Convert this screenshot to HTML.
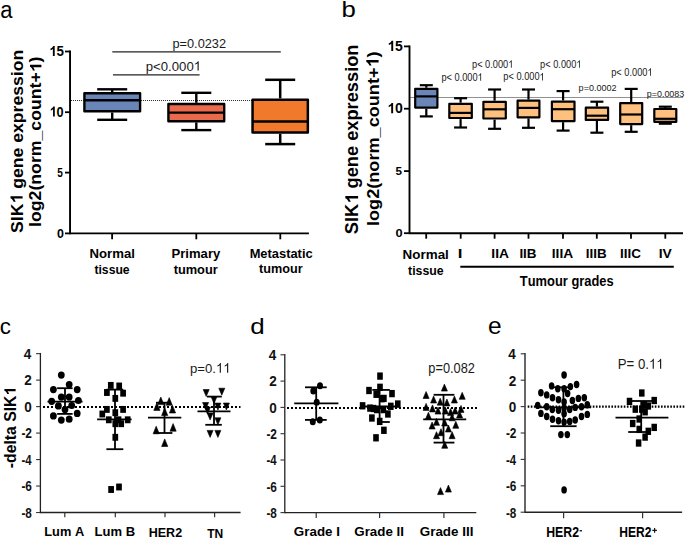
<!DOCTYPE html>
<html><head><meta charset="utf-8"><style>
html,body{margin:0;padding:0;background:#fff;}
svg{display:block;font-family:"Liberation Sans", sans-serif;}
</style></head><body>
<svg width="685" height="539" viewBox="0 0 685 539">
<rect width="685" height="539" fill="#fff"/>
<g transform="translate(0.36,17.86) scale(0.9215,1)" fill="#000"><text x="0.00" y="0" font-size="23.93">a</text></g>
<line x1="70.05" y1="50.6" x2="70.05" y2="234.3" stroke="#000" stroke-width="1.9" />
<line x1="65.0" y1="51.5" x2="70.05" y2="51.5" stroke="#000" stroke-width="1.8" />
<line x1="65.0" y1="112.2" x2="70.05" y2="112.2" stroke="#000" stroke-width="1.8" />
<line x1="65.0" y1="172.6" x2="70.05" y2="172.6" stroke="#000" stroke-width="1.8" />
<line x1="65.0" y1="233.4" x2="70.05" y2="233.4" stroke="#000" stroke-width="1.8" />
<g transform="translate(49.12,56.06) scale(0.9643,1)" fill="#000"><text x="7.71" y="0" font-size="13.86" font-weight="bold">5</text><path transform="translate(0.00,0) scale(0.00677,-0.00677)" d="M856 0L575 0L575 1059Q421 915 212 846L212 1101Q322 1137 451 1237Q580 1337 628 1472L856 1472Z"/></g>
<g transform="translate(49.48,116.56) scale(0.9082,1)" fill="#000"><text x="7.78" y="0" font-size="14.00" font-weight="bold">0</text><path transform="translate(0.00,0) scale(0.00683,-0.00683)" d="M856 0L575 0L575 1059Q421 915 212 846L212 1101Q322 1137 451 1237Q580 1337 628 1472L856 1472Z"/></g>
<g transform="translate(57.20,176.58) scale(0.8446,1)" fill="#000"><text x="0.00" y="0" font-size="11.90" font-weight="bold">5</text></g>
<g transform="translate(57.00,237.58) scale(1.0462,1)" fill="#000"><text x="0.00" y="0" font-size="11.87" font-weight="bold">0</text></g>
<line x1="70.05" y1="233.4" x2="308.9" y2="233.4" stroke="#000" stroke-width="1.9" />
<line x1="112.1" y1="233.4" x2="112.1" y2="239.3" stroke="#000" stroke-width="1.8" />
<line x1="196.3" y1="233.4" x2="196.3" y2="239.3" stroke="#000" stroke-width="1.8" />
<line x1="280.3" y1="233.4" x2="280.3" y2="239.3" stroke="#000" stroke-width="1.8" />
<line x1="71.05" y1="100.5" x2="309.0" y2="100.5" stroke="#2a2a2a" stroke-width="1" stroke-dasharray="1,1"/>
<line x1="112.2" y1="89.3" x2="112.2" y2="92.0" stroke="#000" stroke-width="2.4" />
<line x1="112.2" y1="112.5" x2="112.2" y2="119.8" stroke="#000" stroke-width="2.4" />
<line x1="97.2" y1="89.3" x2="127.2" y2="89.3" stroke="#000" stroke-width="2.4" />
<line x1="97.2" y1="119.8" x2="127.2" y2="119.8" stroke="#000" stroke-width="2.4" />
<rect x="84.4" y="93.2" width="55.7" height="18.1" fill="#6A86B9" stroke="#000" stroke-width="2.4" stroke-linejoin="round"/>
<line x1="84.4" y1="100.2" x2="140.1" y2="100.2" stroke="#000" stroke-width="2.4" />
<line x1="196.3" y1="92.8" x2="196.3" y2="102.8" stroke="#000" stroke-width="2.4" />
<line x1="196.3" y1="122.4" x2="196.3" y2="130.1" stroke="#000" stroke-width="2.4" />
<line x1="181.3" y1="92.8" x2="211.3" y2="92.8" stroke="#000" stroke-width="2.4" />
<line x1="181.3" y1="130.1" x2="211.3" y2="130.1" stroke="#000" stroke-width="2.4" />
<rect x="168.4" y="104.0" width="55.8" height="17.2" fill="#EC6A4C" stroke="#000" stroke-width="2.4" stroke-linejoin="round"/>
<line x1="168.4" y1="112.6" x2="224.2" y2="112.6" stroke="#000" stroke-width="2.4" />
<line x1="280.2" y1="79.8" x2="280.2" y2="98.4" stroke="#000" stroke-width="2.5" />
<line x1="280.2" y1="133.8" x2="280.2" y2="144.1" stroke="#000" stroke-width="2.5" />
<line x1="265.2" y1="79.8" x2="295.2" y2="79.8" stroke="#000" stroke-width="2.5" />
<line x1="265.2" y1="144.1" x2="295.2" y2="144.1" stroke="#000" stroke-width="2.5" />
<rect x="252.55" y="99.65" width="55.3" height="32.9" fill="#F0792B" stroke="#000" stroke-width="2.5" stroke-linejoin="round"/>
<line x1="252.55" y1="121.5" x2="307.85" y2="121.5" stroke="#000" stroke-width="2.5" />
<line x1="112.3" y1="51.9" x2="280.8" y2="51.9" stroke="#222" stroke-width="1.4" />
<line x1="113.0" y1="74.9" x2="199.6" y2="74.9" stroke="#222" stroke-width="1.4" />
<g transform="translate(172.47,47.70) scale(1.0115,1)" fill="#1a1a1a"><text x="0.00 7.02 14.38 21.40 24.91 31.92 38.94 45.96" y="0" font-size="12.62">p=0.0232</text></g>
<g transform="translate(145.74,70.50) scale(1.0304,1)" fill="#1a1a1a"><text x="0.00 7.12 14.59 21.71 25.27 32.39 39.51" y="0" font-size="12.80">p&lt;0.000</text><path transform="translate(46.63,0) scale(0.00625,-0.00625)" d="M763 0L583 0L583 1147Q518 1085 412.5 1023Q307 961 223 930L223 1104Q374 1175 487 1276Q600 1377 647 1472L763 1472Z"/></g>
<g transform="translate(22.60,232.40) rotate(-90) translate(-0.53,0) scale(1.0475,1)" fill="#000"><text x="0.00 11.22 15.90 42.09 52.37 61.73 72.00 86.04 95.40 104.76 115.04 121.59 130.94 140.30 149.66 154.34 164.62" y="0" font-size="16.83" font-weight="bold">SIKgeneexpression</text><path transform="translate(28.05,0) scale(0.00822,-0.00822)" d="M856 0L575 0L575 1059Q421 915 212 846L212 1101Q322 1137 451 1237Q580 1337 628 1472L856 1472Z"/></g>
<g transform="translate(41.40,225.70) rotate(-90) translate(-1.24,0) scale(1.1146,1)" fill="#000"><text x="0.00 4.41 14.10 23.79 32.61 37.89 47.58 57.27 63.44 77.55 86.37 95.19 104.88 114.57 124.26 129.54 147.63" y="0" font-size="15.86" font-weight="bold">log2(norm_count+)</text><path transform="translate(138.80,0) scale(0.00775,-0.00775)" d="M856 0L575 0L575 1059Q421 915 212 846L212 1101Q322 1137 451 1237Q580 1337 628 1472L856 1472Z"/></g>
<g transform="translate(89.51,258.20) scale(0.9653,1)" fill="#000"><text x="0.00 9.86 18.20 23.52 35.66 43.25" y="0" font-size="13.66" font-weight="bold">Normal</text></g>
<g transform="translate(94.45,273.70) scale(0.8909,1)" fill="#000"><text x="0.00 4.55 8.34 15.94 23.53 31.87" y="0" font-size="13.66" font-weight="bold">tissue</text></g>
<g transform="translate(171.52,258.00) scale(0.9785,1)" fill="#000"><text x="0.00 8.92 14.13 17.85 29.74 37.19 42.39" y="0" font-size="13.38" font-weight="bold">Primary</text></g>
<g transform="translate(173.64,273.50) scale(0.9580,1)" fill="#000"><text x="0.00 4.46 12.63 24.52 32.70 40.87" y="0" font-size="13.38" font-weight="bold">tumour</text></g>
<g transform="translate(249.63,257.90) scale(0.9837,1)" fill="#000"><text x="0.00 10.92 18.20 22.57 29.85 37.14 41.51 48.79 53.16 56.80" y="0" font-size="13.10" font-weight="bold">Metastatic</text></g>
<g transform="translate(259.04,273.40) scale(0.9670,1)" fill="#000"><text x="0.00 4.36 12.37 24.02 32.02 40.03" y="0" font-size="13.10" font-weight="bold">tumour</text></g>
<g transform="translate(341.42,16.97) scale(1.1414,1)" fill="#000"><text x="0.00" y="0" font-size="22.59">b</text></g>
<line x1="409.5" y1="45.5" x2="409.5" y2="234.1" stroke="#000" stroke-width="1.9" />
<line x1="404.0" y1="46.4" x2="409.5" y2="46.4" stroke="#000" stroke-width="1.8" />
<line x1="404.0" y1="108.7" x2="409.5" y2="108.7" stroke="#000" stroke-width="1.8" />
<line x1="404.0" y1="171.1" x2="409.5" y2="171.1" stroke="#000" stroke-width="1.8" />
<line x1="404.0" y1="233.2" x2="409.5" y2="233.2" stroke="#000" stroke-width="1.8" />
<g transform="translate(387.35,50.96) scale(0.9889,1)" fill="#000"><text x="7.86" y="0" font-size="14.13" font-weight="bold">5</text><path transform="translate(0.00,0) scale(0.00690,-0.00690)" d="M856 0L575 0L575 1059Q421 915 212 846L212 1101Q322 1137 451 1237Q580 1337 628 1472L856 1472Z"/></g>
<g transform="translate(387.25,113.16) scale(0.9944,1)" fill="#000"><text x="7.86" y="0" font-size="14.13" font-weight="bold">0</text><path transform="translate(0.00,0) scale(0.00690,-0.00690)" d="M856 0L575 0L575 1059Q421 915 212 846L212 1101Q322 1137 451 1237Q580 1337 628 1472L856 1472Z"/></g>
<g transform="translate(395.55,175.28) scale(0.9917,1)" fill="#000"><text x="0.00" y="0" font-size="11.76" font-weight="bold">5</text></g>
<g transform="translate(395.39,237.38) scale(1.0947,1)" fill="#000"><text x="0.00" y="0" font-size="11.73" font-weight="bold">0</text></g>
<line x1="409.5" y1="233.2" x2="683.0" y2="233.2" stroke="#000" stroke-width="1.9" />
<line x1="426.2" y1="233.2" x2="426.2" y2="238.7" stroke="#000" stroke-width="1.8" />
<line x1="460.7" y1="233.2" x2="460.7" y2="238.7" stroke="#000" stroke-width="1.8" />
<line x1="494.6" y1="233.2" x2="494.6" y2="238.7" stroke="#000" stroke-width="1.8" />
<line x1="528.5" y1="233.2" x2="528.5" y2="238.7" stroke="#000" stroke-width="1.8" />
<line x1="563.0" y1="233.2" x2="563.0" y2="238.7" stroke="#000" stroke-width="1.8" />
<line x1="596.8" y1="233.2" x2="596.8" y2="238.7" stroke="#000" stroke-width="1.8" />
<line x1="631.0" y1="233.2" x2="631.0" y2="238.7" stroke="#000" stroke-width="1.8" />
<line x1="665.3" y1="233.2" x2="665.3" y2="238.7" stroke="#000" stroke-width="1.8" />
<line x1="410.5" y1="97.5" x2="683.0" y2="97.5" stroke="#222" stroke-width="1" stroke-dasharray="1,1"/>
<line x1="426.3" y1="85.2" x2="426.3" y2="87.8" stroke="#000" stroke-width="2.2" />
<line x1="426.3" y1="108.7" x2="426.3" y2="116.4" stroke="#000" stroke-width="2.2" />
<line x1="419.8" y1="85.2" x2="432.8" y2="85.2" stroke="#000" stroke-width="2.2" />
<line x1="419.8" y1="116.4" x2="432.8" y2="116.4" stroke="#000" stroke-width="2.2" />
<rect x="415.2" y="88.9" width="22.2" height="18.7" fill="#6A86B9" stroke="#000" stroke-width="2.2" stroke-linejoin="round"/>
<line x1="415.2" y1="96.4" x2="437.4" y2="96.4" stroke="#000" stroke-width="2.2" />
<line x1="460.6" y1="98.2" x2="460.6" y2="102.7" stroke="#000" stroke-width="2.2" />
<line x1="460.6" y1="119.1" x2="460.6" y2="127.5" stroke="#000" stroke-width="2.2" />
<line x1="454.1" y1="98.2" x2="467.1" y2="98.2" stroke="#000" stroke-width="2.2" />
<line x1="454.1" y1="127.5" x2="467.1" y2="127.5" stroke="#000" stroke-width="2.2" />
<rect x="449.3" y="103.8" width="22.5" height="14.2" fill="#FDC07E" stroke="#000" stroke-width="2.2" stroke-linejoin="round"/>
<line x1="449.3" y1="112.9" x2="471.8" y2="112.9" stroke="#000" stroke-width="2.2" />
<line x1="494.6" y1="89.5" x2="494.6" y2="100.7" stroke="#000" stroke-width="2.2" />
<line x1="494.6" y1="119.6" x2="494.6" y2="128.8" stroke="#000" stroke-width="2.2" />
<line x1="488.1" y1="89.5" x2="501.1" y2="89.5" stroke="#000" stroke-width="2.2" />
<line x1="488.1" y1="128.8" x2="501.1" y2="128.8" stroke="#000" stroke-width="2.2" />
<rect x="483.4" y="101.8" width="22.4" height="16.7" fill="#FDC07E" stroke="#000" stroke-width="2.2" stroke-linejoin="round"/>
<line x1="483.4" y1="109.3" x2="505.8" y2="109.3" stroke="#000" stroke-width="2.2" />
<line x1="528.5" y1="89.5" x2="528.5" y2="99.6" stroke="#000" stroke-width="2.2" />
<line x1="528.5" y1="118.4" x2="528.5" y2="127.8" stroke="#000" stroke-width="2.2" />
<line x1="522.0" y1="89.5" x2="535.0" y2="89.5" stroke="#000" stroke-width="2.2" />
<line x1="522.0" y1="127.8" x2="535.0" y2="127.8" stroke="#000" stroke-width="2.2" />
<rect x="517.6" y="100.7" width="21.8" height="16.6" fill="#FDC07E" stroke="#000" stroke-width="2.2" stroke-linejoin="round"/>
<line x1="517.6" y1="107.9" x2="539.4" y2="107.9" stroke="#000" stroke-width="2.2" />
<line x1="563.1" y1="91.1" x2="563.1" y2="100.5" stroke="#000" stroke-width="2.2" />
<line x1="563.1" y1="122.2" x2="563.1" y2="130.6" stroke="#000" stroke-width="2.2" />
<line x1="556.6" y1="91.1" x2="569.6" y2="91.1" stroke="#000" stroke-width="2.2" />
<line x1="556.6" y1="130.6" x2="569.6" y2="130.6" stroke="#000" stroke-width="2.2" />
<rect x="551.9" y="101.6" width="22.6" height="19.5" fill="#FDC07E" stroke="#000" stroke-width="2.2" stroke-linejoin="round"/>
<line x1="551.9" y1="109.2" x2="574.5" y2="109.2" stroke="#000" stroke-width="2.2" />
<line x1="596.9" y1="101.7" x2="596.9" y2="106.6" stroke="#000" stroke-width="2.2" />
<line x1="596.9" y1="121.0" x2="596.9" y2="132.7" stroke="#000" stroke-width="2.2" />
<line x1="590.4" y1="101.7" x2="603.4" y2="101.7" stroke="#000" stroke-width="2.2" />
<line x1="590.4" y1="132.7" x2="603.4" y2="132.7" stroke="#000" stroke-width="2.2" />
<rect x="585.8" y="107.7" width="22.3" height="12.2" fill="#FDC07E" stroke="#000" stroke-width="2.2" stroke-linejoin="round"/>
<line x1="585.8" y1="115.7" x2="608.1" y2="115.7" stroke="#000" stroke-width="2.2" />
<line x1="631.2" y1="88.9" x2="631.2" y2="102.0" stroke="#000" stroke-width="2.2" />
<line x1="631.2" y1="125.2" x2="631.2" y2="131.8" stroke="#000" stroke-width="2.2" />
<line x1="624.7" y1="88.9" x2="637.7" y2="88.9" stroke="#000" stroke-width="2.2" />
<line x1="624.7" y1="131.8" x2="637.7" y2="131.8" stroke="#000" stroke-width="2.2" />
<rect x="620.2" y="103.1" width="22.0" height="21.0" fill="#FDC07E" stroke="#000" stroke-width="2.2" stroke-linejoin="round"/>
<line x1="620.2" y1="114.5" x2="642.2" y2="114.5" stroke="#000" stroke-width="2.2" />
<line x1="665.3" y1="106.7" x2="665.3" y2="107.9" stroke="#000" stroke-width="2.2" />
<line x1="665.3" y1="122.9" x2="665.3" y2="123.7" stroke="#000" stroke-width="2.2" />
<line x1="658.8" y1="106.7" x2="671.8" y2="106.7" stroke="#000" stroke-width="2.2" />
<line x1="658.8" y1="123.7" x2="671.8" y2="123.7" stroke="#000" stroke-width="2.2" />
<rect x="654.3" y="109.0" width="22.0" height="12.8" fill="#FDC07E" stroke="#000" stroke-width="2.2" stroke-linejoin="round"/>
<line x1="654.3" y1="118.8" x2="676.3" y2="118.8" stroke="#000" stroke-width="2.2" />
<g transform="translate(441.40,80.70) scale(0.8862,1)" fill="#1a1a1a"><text x="0.00 5.80 14.80 20.60 23.50 29.30 35.11" y="0" font-size="10.43">p&lt;0.000</text><path transform="translate(40.91,0) scale(0.00510,-0.00510)" d="M763 0L583 0L583 1147Q518 1085 412.5 1023Q307 961 223 930L223 1104Q374 1175 487 1276Q600 1377 647 1472L763 1472Z"/></g>
<g transform="translate(472.00,67.80) scale(0.8862,1)" fill="#1a1a1a"><text x="0.00 5.80 14.80 20.60 23.50 29.30 35.11" y="0" font-size="10.43">p&lt;0.000</text><path transform="translate(40.91,0) scale(0.00510,-0.00510)" d="M763 0L583 0L583 1147Q518 1085 412.5 1023Q307 961 223 930L223 1104Q374 1175 487 1276Q600 1377 647 1472L763 1472Z"/></g>
<g transform="translate(503.30,80.40) scale(0.8862,1)" fill="#1a1a1a"><text x="0.00 5.80 14.80 20.60 23.50 29.30 35.11" y="0" font-size="10.43">p&lt;0.000</text><path transform="translate(40.91,0) scale(0.00510,-0.00510)" d="M763 0L583 0L583 1147Q518 1085 412.5 1023Q307 961 223 930L223 1104Q374 1175 487 1276Q600 1377 647 1472L763 1472Z"/></g>
<g transform="translate(540.10,67.70) scale(0.8862,1)" fill="#1a1a1a"><text x="0.00 5.80 14.80 20.60 23.50 29.30 35.11" y="0" font-size="10.43">p&lt;0.000</text><path transform="translate(40.91,0) scale(0.00510,-0.00510)" d="M763 0L583 0L583 1147Q518 1085 412.5 1023Q307 961 223 930L223 1104Q374 1175 487 1276Q600 1377 647 1472L763 1472Z"/></g>
<g transform="translate(611.20,75.80) scale(0.8862,1)" fill="#1a1a1a"><text x="0.00 5.80 14.80 20.60 23.50 29.30 35.11" y="0" font-size="10.43">p&lt;0.000</text><path transform="translate(40.91,0) scale(0.00510,-0.00510)" d="M763 0L583 0L583 1147Q518 1085 412.5 1023Q307 961 223 930L223 1104Q374 1175 487 1276Q600 1377 647 1472L763 1472Z"/></g>
<g transform="translate(578.61,91.10) scale(0.9136,1)" fill="#1a1a1a"><text x="0.00 5.50 11.28 16.78 19.53 25.03 30.53 36.04" y="0" font-size="9.89">p=0.0002</text></g>
<g transform="translate(646.72,96.80) scale(0.9602,1)" fill="#1a1a1a"><text x="0.00 5.18 10.63 15.81 18.40 23.58 28.76 33.95" y="0" font-size="9.32">p=0.0083</text></g>
<g transform="translate(358.10,233.60) rotate(-90) translate(-0.55,0) scale(1.0256,1)" fill="#000"><text x="0.00 11.87 16.81 44.50 55.37 65.27 76.14 90.98 100.87 110.77 121.64 128.56 138.46 148.35 158.25 163.19 174.06" y="0" font-size="17.79" font-weight="bold">SIKgeneexpression</text><path transform="translate(29.66,0) scale(0.00869,-0.00869)" d="M856 0L575 0L575 1059Q421 915 212 846L212 1101Q322 1137 451 1237Q580 1337 628 1472L856 1472Z"/></g>
<g transform="translate(378.60,224.70) rotate(-90) translate(-1.27,0) scale(1.0589,1)" fill="#000"><text x="0.00 4.75 15.20 25.65 35.16 40.86 51.30 61.75 68.41 83.62 93.13 102.64 113.09 123.54 133.98 139.68 159.18" y="0" font-size="17.10" font-weight="bold">log2(norm_count+)</text><path transform="translate(149.67,0) scale(0.00835,-0.00835)" d="M856 0L575 0L575 1059Q421 915 212 846L212 1101Q322 1137 451 1237Q580 1337 628 1472L856 1472Z"/></g>
<g transform="translate(402.59,259.20) scale(1.0465,1)" fill="#000"><text x="0.00 9.26 17.10 22.09 33.50 40.63" y="0" font-size="12.83" font-weight="bold">Normal</text></g>
<g transform="translate(408.05,274.90) scale(0.9594,1)" fill="#000"><text x="0.00 4.27 7.84 14.97 22.10 29.94" y="0" font-size="12.83" font-weight="bold">tissue</text></g>
<g transform="translate(457.76,258.40) scale(1.3130,1)" fill="#000"><text x="0.00" y="0" font-size="12.83" font-weight="bold">I</text></g>
<g transform="translate(491.37,258.40) scale(1.0739,1)" fill="#000"><text x="0.00 3.56 7.13" y="0" font-size="12.83" font-weight="bold">IIA</text></g>
<g transform="translate(519.39,258.40) scale(1.0499,1)" fill="#000"><text x="0.00 3.56 7.13" y="0" font-size="12.83" font-weight="bold">IIB</text></g>
<g transform="translate(551.77,258.40) scale(1.0725,1)" fill="#000"><text x="0.00 3.56 7.13 10.69" y="0" font-size="12.83" font-weight="bold">IIIA</text></g>
<g transform="translate(585.69,258.40) scale(1.0477,1)" fill="#000"><text x="0.00 3.56 7.13 10.69" y="0" font-size="12.83" font-weight="bold">IIIB</text></g>
<g transform="translate(619.99,258.40) scale(1.0511,1)" fill="#000"><text x="0.00 3.56 7.13 10.69" y="0" font-size="12.83" font-weight="bold">IIIC</text></g>
<g transform="translate(658.66,258.40) scale(1.0838,1)" fill="#000"><text x="0.00 3.56" y="0" font-size="12.83" font-weight="bold">IV</text></g>
<line x1="460.3" y1="266.7" x2="673.8" y2="266.7" stroke="#000" stroke-width="1.9" />
<g transform="translate(519.87,285.70) scale(0.9338,1)" fill="#000"><text x="0.00 8.43 16.85 29.12 37.54 45.97 55.17 63.59 68.96 76.63 85.06 92.73" y="0" font-size="13.79" font-weight="bold">Tumourgrades</text></g>
<g transform="translate(-0.15,333.98) scale(1.0019,1)" fill="#000"><text x="0.00" y="0" font-size="22.28">c</text></g>
<line x1="40.4" y1="352.94" x2="40.4" y2="513.22" stroke="#222" stroke-width="1.3" />
<line x1="36.1" y1="353.64" x2="40.4" y2="353.64" stroke="#333" stroke-width="1.1" />
<g transform="translate(23.75,358.92) scale(0.9737,1)" fill="#111"><text x="0.00" y="0" font-size="13.91" font-weight="bold">4</text></g>
<line x1="36.1" y1="380.12" x2="40.4" y2="380.12" stroke="#333" stroke-width="1.1" />
<g transform="translate(24.23,385.47) scale(0.9737,1)" fill="#111"><text x="0.00" y="0" font-size="13.91" font-weight="bold">2</text></g>
<line x1="36.1" y1="406.6" x2="40.4" y2="406.6" stroke="#333" stroke-width="1.1" />
<g transform="translate(24.23,411.95) scale(0.9737,1)" fill="#111"><text x="0.00" y="0" font-size="13.91" font-weight="bold">0</text></g>
<line x1="36.1" y1="433.08" x2="40.4" y2="433.08" stroke="#333" stroke-width="1.1" />
<g transform="translate(21.42,438.43) scale(0.8543,1)" fill="#111"><text x="0.00 4.63" y="0" font-size="13.91" font-weight="bold">-2</text></g>
<line x1="36.1" y1="459.56" x2="40.4" y2="459.56" stroke="#333" stroke-width="1.1" />
<g transform="translate(21.44,464.84) scale(0.8189,1)" fill="#111"><text x="0.00 4.63" y="0" font-size="13.91" font-weight="bold">-4</text></g>
<line x1="36.1" y1="486.04" x2="40.4" y2="486.04" stroke="#333" stroke-width="1.1" />
<g transform="translate(21.43,491.39) scale(0.8491,1)" fill="#111"><text x="0.00 4.63" y="0" font-size="13.91" font-weight="bold">-6</text></g>
<line x1="36.1" y1="512.52" x2="40.4" y2="512.52" stroke="#333" stroke-width="1.1" />
<g transform="translate(21.43,517.87) scale(0.8439,1)" fill="#111"><text x="0.00 4.63" y="0" font-size="13.91" font-weight="bold">-8</text></g>
<line x1="40.4" y1="512.52" x2="240.6" y2="512.52" stroke="#222" stroke-width="1.4" />
<line x1="64.8" y1="512.52" x2="64.8" y2="517.3" stroke="#333" stroke-width="1.2" />
<line x1="115.3" y1="512.52" x2="115.3" y2="517.3" stroke="#333" stroke-width="1.2" />
<line x1="165.0" y1="512.52" x2="165.0" y2="517.3" stroke="#333" stroke-width="1.2" />
<line x1="214.6" y1="512.52" x2="214.6" y2="517.3" stroke="#333" stroke-width="1.2" />
<line x1="43.0" y1="407.0" x2="240.5" y2="407.0" stroke="#000" stroke-width="2" stroke-dasharray="2,2"/>
<g transform="translate(15.60,467.50) rotate(-90) translate(-0.63,0) scale(1.0093,1)" fill="#000"><text x="0.00 5.19 14.71 23.38 27.71 32.90 45.90 56.30 60.63" y="0" font-size="15.59" font-weight="bold">-deltaSIK</text><path transform="translate(71.88,0) scale(0.00761,-0.00761)" d="M856 0L575 0L575 1059Q421 915 212 846L212 1101Q322 1137 451 1237Q580 1337 628 1472L856 1472Z"/></g>
<g transform="translate(44.23,535.80) scale(1.0024,1)" fill="#000"><text x="0.00 7.82 15.64 30.58" y="0" font-size="12.80" font-weight="bold">LumA</text></g>
<g transform="translate(94.62,535.80) scale(1.0187,1)" fill="#000"><text x="0.00 7.82 15.64 30.58" y="0" font-size="12.80" font-weight="bold">LumB</text></g>
<g transform="translate(148.65,536.60) scale(0.9800,1)" fill="#000"><text x="0.00 9.24 17.78 27.03" y="0" font-size="12.80" font-weight="bold">HER2</text></g>
<g transform="translate(207.28,537.80) scale(0.9393,1)" fill="#000"><text x="0.00 7.82" y="0" font-size="12.80" font-weight="bold">TN</text></g>
<g transform="translate(190.05,372.80) scale(0.9739,1)" fill="#1a1a1a"><text x="0.00 7.51 15.39 22.89" y="0" font-size="13.50">p=0.</text><path transform="translate(26.64,0) scale(0.00659,-0.00659)" d="M763 0L583 0L583 1147Q518 1085 412.5 1023Q307 961 223 930L223 1104Q374 1175 487 1276Q600 1377 647 1472L763 1472Z"/><path transform="translate(34.15,0) scale(0.00659,-0.00659)" d="M763 0L583 0L583 1147Q518 1085 412.5 1023Q307 961 223 930L223 1104Q374 1175 487 1276Q600 1377 647 1472L763 1472Z"/></g>
<ellipse cx="61.3" cy="375.1" rx="3.4" ry="3.6"/>
<ellipse cx="69.2" cy="384.6" rx="3.4" ry="3.6"/>
<ellipse cx="53.4" cy="389.6" rx="3.4" ry="3.6"/>
<ellipse cx="77.2" cy="389.6" rx="3.4" ry="3.6"/>
<ellipse cx="61.3" cy="397.1" rx="3.4" ry="3.6"/>
<ellipse cx="69.2" cy="397.1" rx="3.4" ry="3.6"/>
<ellipse cx="51.7" cy="401.3" rx="3.4" ry="3.6"/>
<ellipse cx="78.4" cy="400.5" rx="3.4" ry="3.6"/>
<ellipse cx="58.4" cy="405.9" rx="3.4" ry="3.6"/>
<ellipse cx="71.7" cy="405.5" rx="3.4" ry="3.6"/>
<ellipse cx="65.0" cy="409.6" rx="3.4" ry="3.6"/>
<ellipse cx="53.4" cy="415.9" rx="3.4" ry="3.6"/>
<ellipse cx="77.2" cy="413.4" rx="3.4" ry="3.6"/>
<ellipse cx="61.3" cy="420.1" rx="3.4" ry="3.6"/>
<ellipse cx="69.2" cy="419.2" rx="3.4" ry="3.6"/>
<line x1="65.0" y1="388.2" x2="65.0" y2="413.9" stroke="#000" stroke-width="1.8" />
<line x1="57.1" y1="388.2" x2="72.6" y2="388.2" stroke="#000" stroke-width="1.8" />
<line x1="57.1" y1="413.9" x2="72.6" y2="413.9" stroke="#000" stroke-width="1.8" />
<line x1="47.5" y1="401.6" x2="82.5" y2="401.6" stroke="#000" stroke-width="1.8" />
<rect x="107.95" y="381.95" width="5.7" height="6.9"/>
<rect x="116.35" y="382.55" width="5.7" height="6.9"/>
<rect x="104.05" y="389.05" width="5.7" height="6.9"/>
<rect x="120.25" y="389.75" width="5.7" height="6.9"/>
<rect x="112.45" y="394.95" width="5.7" height="6.9"/>
<rect x="104.05" y="405.95" width="5.7" height="6.9"/>
<rect x="120.25" y="405.95" width="5.7" height="6.9"/>
<rect x="112.45" y="409.25" width="5.7" height="6.9"/>
<rect x="99.45" y="410.55" width="5.7" height="6.9"/>
<rect x="105.95" y="416.35" width="5.7" height="6.9"/>
<rect x="115.65" y="416.35" width="5.7" height="6.9"/>
<rect x="112.45" y="420.25" width="5.7" height="6.9"/>
<rect x="118.35" y="420.25" width="5.7" height="6.9"/>
<rect x="124.85" y="416.35" width="5.7" height="6.9"/>
<rect x="112.45" y="433.85" width="5.7" height="6.9"/>
<rect x="108.25" y="486.05" width="5.7" height="6.9"/>
<rect x="116.15" y="483.55" width="5.7" height="6.9"/>
<line x1="115.0" y1="389.6" x2="115.0" y2="449.2" stroke="#000" stroke-width="1.8" />
<line x1="106.4" y1="389.6" x2="123.3" y2="389.6" stroke="#000" stroke-width="1.8" />
<line x1="106.4" y1="449.2" x2="123.3" y2="449.2" stroke="#000" stroke-width="1.8" />
<line x1="97.1" y1="419.4" x2="131.6" y2="419.4" stroke="#000" stroke-width="1.8" />
<path d="M160.8,397.0 L163.9,404.6 L157.7,404.6 Z" stroke="#000" stroke-width="0.6" stroke-linejoin="round"/>
<path d="M169.2,397.6 L172.3,405.2 L166.1,405.2 Z" stroke="#000" stroke-width="0.6" stroke-linejoin="round"/>
<path d="M156.9,402.8 L160.0,410.4 L153.8,410.4 Z" stroke="#000" stroke-width="0.6" stroke-linejoin="round"/>
<path d="M172.5,405.4 L175.6,413.0 L169.4,413.0 Z" stroke="#000" stroke-width="0.6" stroke-linejoin="round"/>
<path d="M164.7,408.0 L167.8,415.6 L161.6,415.6 Z" stroke="#000" stroke-width="0.6" stroke-linejoin="round"/>
<path d="M156.2,426.2 L159.3,433.8 L153.1,433.8 Z" stroke="#000" stroke-width="0.6" stroke-linejoin="round"/>
<path d="M173.1,423.6 L176.2,431.2 L170.0,431.2 Z" stroke="#000" stroke-width="0.6" stroke-linejoin="round"/>
<path d="M164.7,438.9 L167.8,446.5 L161.6,446.5 Z" stroke="#000" stroke-width="0.6" stroke-linejoin="round"/>
<line x1="164.5" y1="402.7" x2="164.5" y2="433.0" stroke="#000" stroke-width="1.8" />
<line x1="156.0" y1="402.7" x2="171.0" y2="402.7" stroke="#000" stroke-width="1.8" />
<line x1="154.3" y1="433.0" x2="172.4" y2="433.0" stroke="#000" stroke-width="1.8" />
<line x1="148.0" y1="417.7" x2="181.3" y2="417.7" stroke="#000" stroke-width="1.8" />
<path d="M203.2,389.5 L209.2,389.5 L206.2,396.5 Z" stroke="#000" stroke-width="0.6" stroke-linejoin="round"/>
<path d="M218.8,388.2 L224.8,388.2 L221.8,395.2 Z" stroke="#000" stroke-width="0.6" stroke-linejoin="round"/>
<path d="M211.0,396.6 L217.0,396.6 L214.0,403.6 Z" stroke="#000" stroke-width="0.6" stroke-linejoin="round"/>
<path d="M202.6,402.5 L208.6,402.5 L205.6,409.5 Z" stroke="#000" stroke-width="0.6" stroke-linejoin="round"/>
<path d="M214.9,403.1 L220.9,403.1 L217.9,410.1 Z" stroke="#000" stroke-width="0.6" stroke-linejoin="round"/>
<path d="M223.4,403.0 L229.4,403.0 L226.4,410.0 Z" stroke="#000" stroke-width="0.6" stroke-linejoin="round"/>
<path d="M204.5,407.0 L210.5,407.0 L207.5,414.0 Z" stroke="#000" stroke-width="0.6" stroke-linejoin="round"/>
<path d="M207.1,412.9 L213.1,412.9 L210.1,419.9 Z" stroke="#000" stroke-width="0.6" stroke-linejoin="round"/>
<path d="M214.9,417.8 L220.9,417.8 L217.9,424.8 Z" stroke="#000" stroke-width="0.6" stroke-linejoin="round"/>
<path d="M207.1,430.4 L213.1,430.4 L210.1,437.4 Z" stroke="#000" stroke-width="0.6" stroke-linejoin="round"/>
<path d="M214.9,430.4 L220.9,430.4 L217.9,437.4 Z" stroke="#000" stroke-width="0.6" stroke-linejoin="round"/>
<line x1="214.0" y1="396.6" x2="214.0" y2="424.8" stroke="#000" stroke-width="1.8" />
<line x1="206.9" y1="396.6" x2="221.8" y2="396.6" stroke="#000" stroke-width="1.8" />
<line x1="205.3" y1="424.8" x2="221.8" y2="424.8" stroke="#000" stroke-width="1.8" />
<line x1="197.5" y1="411.3" x2="230.5" y2="411.3" stroke="#000" stroke-width="1.8" />
<g transform="translate(250.30,333.67) scale(1.1443,1)" fill="#000"><text x="0.00" y="0" font-size="22.72">d</text></g>
<line x1="284.8" y1="354.1" x2="284.8" y2="513.3" stroke="#222" stroke-width="1.3" />
<line x1="280.5" y1="354.8" x2="284.8" y2="354.8" stroke="#333" stroke-width="1.1" />
<g transform="translate(268.75,360.08) scale(0.9737,1)" fill="#111"><text x="0.00" y="0" font-size="13.91" font-weight="bold">4</text></g>
<line x1="280.5" y1="381.1" x2="284.8" y2="381.1" stroke="#333" stroke-width="1.1" />
<g transform="translate(269.23,386.45) scale(0.9737,1)" fill="#111"><text x="0.00" y="0" font-size="13.91" font-weight="bold">2</text></g>
<line x1="280.5" y1="407.4" x2="284.8" y2="407.4" stroke="#333" stroke-width="1.1" />
<g transform="translate(269.23,412.75) scale(0.9737,1)" fill="#111"><text x="0.00" y="0" font-size="13.91" font-weight="bold">0</text></g>
<line x1="280.5" y1="433.7" x2="284.8" y2="433.7" stroke="#333" stroke-width="1.1" />
<g transform="translate(266.42,439.05) scale(0.8543,1)" fill="#111"><text x="0.00 4.63" y="0" font-size="13.91" font-weight="bold">-2</text></g>
<line x1="280.5" y1="460.0" x2="284.8" y2="460.0" stroke="#333" stroke-width="1.1" />
<g transform="translate(266.44,465.28) scale(0.8189,1)" fill="#111"><text x="0.00 4.63" y="0" font-size="13.91" font-weight="bold">-4</text></g>
<line x1="280.5" y1="486.3" x2="284.8" y2="486.3" stroke="#333" stroke-width="1.1" />
<g transform="translate(266.43,491.65) scale(0.8491,1)" fill="#111"><text x="0.00 4.63" y="0" font-size="13.91" font-weight="bold">-6</text></g>
<line x1="280.5" y1="512.6" x2="284.8" y2="512.6" stroke="#333" stroke-width="1.1" />
<g transform="translate(266.43,517.95) scale(0.8439,1)" fill="#111"><text x="0.00 4.63" y="0" font-size="13.91" font-weight="bold">-8</text></g>
<line x1="284.8" y1="512.6" x2="476.3" y2="512.6" stroke="#222" stroke-width="1.4" />
<line x1="316.2" y1="512.6" x2="316.2" y2="518.0" stroke="#333" stroke-width="1.2" />
<line x1="379.6" y1="512.6" x2="379.6" y2="518.0" stroke="#333" stroke-width="1.2" />
<line x1="443.9" y1="512.6" x2="443.9" y2="518.0" stroke="#333" stroke-width="1.2" />
<line x1="287.0" y1="408.0" x2="479.0" y2="408.0" stroke="#000" stroke-width="2" stroke-dasharray="2,2"/>
<g transform="translate(293.87,536.00) scale(1.0529,1)" fill="#000"><text x="0.00 9.87 14.81 21.87 29.62 40.20" y="0" font-size="12.69" font-weight="bold">GradeI</text></g>
<g transform="translate(354.27,536.00) scale(1.0505,1)" fill="#000"><text x="0.00 9.87 14.81 21.87 29.62 40.20 43.73" y="0" font-size="12.69" font-weight="bold">GradeII</text></g>
<g transform="translate(419.76,535.50) scale(1.0564,1)" fill="#000"><text x="0.00 9.87 14.81 21.87 29.62 40.20 43.73 47.25" y="0" font-size="12.69" font-weight="bold">GradeIII</text></g>
<g transform="translate(428.37,373.00) scale(0.8832,1)" fill="#1a1a1a"><text x="0.00 8.05 16.51 24.56 28.59 36.64 44.69" y="0" font-size="14.48">p=0.082</text></g>
<ellipse cx="320.0" cy="385.8" rx="3.0" ry="3.5"/>
<ellipse cx="313.3" cy="391.0" rx="3.0" ry="3.5"/>
<ellipse cx="316.7" cy="402.3" rx="3.0" ry="3.5"/>
<ellipse cx="312.8" cy="421.8" rx="3.0" ry="3.5"/>
<ellipse cx="319.8" cy="420.1" rx="3.0" ry="3.5"/>
<line x1="316.2" y1="387.3" x2="316.2" y2="419.9" stroke="#000" stroke-width="1.8" />
<line x1="305.0" y1="387.3" x2="326.7" y2="387.3" stroke="#000" stroke-width="1.8" />
<line x1="305.0" y1="419.9" x2="326.7" y2="419.9" stroke="#000" stroke-width="1.8" />
<line x1="294.2" y1="403.4" x2="338.4" y2="403.4" stroke="#000" stroke-width="1.8" />
<rect x="377.2" y="372.45" width="5.6" height="7.3"/>
<rect x="366.2" y="386.85" width="5.6" height="7.3"/>
<rect x="377.2" y="383.65" width="5.6" height="7.3"/>
<rect x="389.2" y="389.95" width="5.6" height="7.3"/>
<rect x="373.4" y="390.65" width="5.6" height="7.3"/>
<rect x="381.1" y="394.75" width="5.6" height="7.3"/>
<rect x="379.0" y="395.05" width="5.6" height="7.3"/>
<rect x="395.0" y="400.35" width="5.6" height="7.3"/>
<rect x="359.8" y="402.15" width="5.6" height="7.3"/>
<rect x="388.0" y="402.65" width="5.6" height="7.3"/>
<rect x="367.2" y="404.45" width="5.6" height="7.3"/>
<rect x="370.7" y="404.85" width="5.6" height="7.3"/>
<rect x="373.9" y="405.95" width="5.6" height="7.3"/>
<rect x="380.6" y="405.95" width="5.6" height="7.3"/>
<rect x="385.1" y="410.35" width="5.6" height="7.3"/>
<rect x="369.1" y="414.35" width="5.6" height="7.3"/>
<rect x="376.9" y="417.75" width="5.6" height="7.3"/>
<rect x="381.1" y="426.65" width="5.6" height="7.3"/>
<rect x="373.2" y="434.15" width="5.6" height="7.3"/>
<line x1="379.6" y1="389.9" x2="379.6" y2="422.0" stroke="#000" stroke-width="1.8" />
<line x1="372.3" y1="389.9" x2="389.8" y2="389.9" stroke="#000" stroke-width="1.8" />
<line x1="377.5" y1="422.0" x2="389.8" y2="422.0" stroke="#000" stroke-width="1.8" />
<line x1="360.0" y1="406.5" x2="400.0" y2="406.5" stroke="#000" stroke-width="1.8" />
<path d="M444.4,384.1 L447.4,391.1 L441.4,391.1 Z" stroke="#000" stroke-width="0.6" stroke-linejoin="round"/>
<path d="M426.1,391.5 L429.1,398.5 L423.1,398.5 Z" stroke="#000" stroke-width="0.6" stroke-linejoin="round"/>
<path d="M462.2,392.3 L465.2,399.3 L459.2,399.3 Z" stroke="#000" stroke-width="0.6" stroke-linejoin="round"/>
<path d="M433.6,396.0 L436.6,403.0 L430.6,403.0 Z" stroke="#000" stroke-width="0.6" stroke-linejoin="round"/>
<path d="M454.4,396.0 L457.4,403.0 L451.4,403.0 Z" stroke="#000" stroke-width="0.6" stroke-linejoin="round"/>
<path d="M440.2,398.2 L443.2,405.2 L437.2,405.2 Z" stroke="#000" stroke-width="0.6" stroke-linejoin="round"/>
<path d="M446.9,399.0 L449.9,406.0 L443.9,406.0 Z" stroke="#000" stroke-width="0.6" stroke-linejoin="round"/>
<path d="M426.1,403.4 L429.1,410.4 L423.1,410.4 Z" stroke="#000" stroke-width="0.6" stroke-linejoin="round"/>
<path d="M432.5,404.9 L435.5,411.9 L429.5,411.9 Z" stroke="#000" stroke-width="0.6" stroke-linejoin="round"/>
<path d="M438.0,407.1 L441.0,414.1 L435.0,414.1 Z" stroke="#000" stroke-width="0.6" stroke-linejoin="round"/>
<path d="M445.4,407.1 L448.4,414.1 L442.4,414.1 Z" stroke="#000" stroke-width="0.6" stroke-linejoin="round"/>
<path d="M450.6,408.6 L453.6,415.6 L447.6,415.6 Z" stroke="#000" stroke-width="0.6" stroke-linejoin="round"/>
<path d="M455.1,407.1 L458.1,414.1 L452.1,414.1 Z" stroke="#000" stroke-width="0.6" stroke-linejoin="round"/>
<path d="M461.0,405.4 L464.0,412.4 L458.0,412.4 Z" stroke="#000" stroke-width="0.6" stroke-linejoin="round"/>
<path d="M459.6,410.9 L462.6,417.9 L456.6,417.9 Z" stroke="#000" stroke-width="0.6" stroke-linejoin="round"/>
<path d="M428.4,412.3 L431.4,419.3 L425.4,419.3 Z" stroke="#000" stroke-width="0.6" stroke-linejoin="round"/>
<path d="M452.1,413.8 L455.1,420.8 L449.1,420.8 Z" stroke="#000" stroke-width="0.6" stroke-linejoin="round"/>
<path d="M436.5,418.3 L439.5,425.3 L433.5,425.3 Z" stroke="#000" stroke-width="0.6" stroke-linejoin="round"/>
<path d="M432.1,422.0 L435.1,429.0 L429.1,429.0 Z" stroke="#000" stroke-width="0.6" stroke-linejoin="round"/>
<path d="M444.7,419.0 L447.7,426.0 L441.7,426.0 Z" stroke="#000" stroke-width="0.6" stroke-linejoin="round"/>
<path d="M455.8,421.3 L458.8,428.3 L452.8,428.3 Z" stroke="#000" stroke-width="0.6" stroke-linejoin="round"/>
<path d="M448.4,425.0 L451.4,432.0 L445.4,432.0 Z" stroke="#000" stroke-width="0.6" stroke-linejoin="round"/>
<path d="M441.0,428.7 L444.0,435.7 L438.0,435.7 Z" stroke="#000" stroke-width="0.6" stroke-linejoin="round"/>
<path d="M436.5,431.7 L439.5,438.7 L433.5,438.7 Z" stroke="#000" stroke-width="0.6" stroke-linejoin="round"/>
<path d="M452.1,431.7 L455.1,438.7 L449.1,438.7 Z" stroke="#000" stroke-width="0.6" stroke-linejoin="round"/>
<path d="M444.7,441.3 L447.7,448.3 L441.7,448.3 Z" stroke="#000" stroke-width="0.6" stroke-linejoin="round"/>
<path d="M440.5,487.6 L443.5,494.6 L437.5,494.6 Z" stroke="#000" stroke-width="0.6" stroke-linejoin="round"/>
<path d="M448.4,485.1 L451.4,492.1 L445.4,492.1 Z" stroke="#000" stroke-width="0.6" stroke-linejoin="round"/>
<line x1="443.5" y1="394.8" x2="443.5" y2="442.6" stroke="#000" stroke-width="1.8" />
<line x1="433.6" y1="394.8" x2="454.4" y2="394.8" stroke="#000" stroke-width="1.8" />
<line x1="433.6" y1="442.6" x2="454.4" y2="442.6" stroke="#000" stroke-width="1.8" />
<line x1="423.2" y1="419.3" x2="466.2" y2="419.3" stroke="#000" stroke-width="1.8" />
<g transform="translate(487.96,333.67) scale(1.0548,1)" fill="#000"><text x="0.00" y="0" font-size="23.20">e</text></g>
<line x1="525.0" y1="353.1" x2="525.0" y2="512.9" stroke="#000" stroke-width="1.2" />
<line x1="520.7" y1="353.8" x2="525.0" y2="353.8" stroke="#333" stroke-width="1.1" />
<g transform="translate(508.25,359.08) scale(0.9737,1)" fill="#111"><text x="0.00" y="0" font-size="13.91" font-weight="bold">4</text></g>
<line x1="520.7" y1="380.2" x2="525.0" y2="380.2" stroke="#333" stroke-width="1.1" />
<g transform="translate(508.73,385.55) scale(0.9737,1)" fill="#111"><text x="0.00" y="0" font-size="13.91" font-weight="bold">2</text></g>
<line x1="520.7" y1="406.6" x2="525.0" y2="406.6" stroke="#333" stroke-width="1.1" />
<g transform="translate(508.73,411.95) scale(0.9737,1)" fill="#111"><text x="0.00" y="0" font-size="13.91" font-weight="bold">0</text></g>
<line x1="520.7" y1="433.0" x2="525.0" y2="433.0" stroke="#333" stroke-width="1.1" />
<g transform="translate(505.92,438.35) scale(0.8543,1)" fill="#111"><text x="0.00 4.63" y="0" font-size="13.91" font-weight="bold">-2</text></g>
<line x1="520.7" y1="459.4" x2="525.0" y2="459.4" stroke="#333" stroke-width="1.1" />
<g transform="translate(505.94,464.68) scale(0.8189,1)" fill="#111"><text x="0.00 4.63" y="0" font-size="13.91" font-weight="bold">-4</text></g>
<line x1="520.7" y1="485.8" x2="525.0" y2="485.8" stroke="#333" stroke-width="1.1" />
<g transform="translate(505.93,491.15) scale(0.8491,1)" fill="#111"><text x="0.00 4.63" y="0" font-size="13.91" font-weight="bold">-6</text></g>
<line x1="520.7" y1="512.2" x2="525.0" y2="512.2" stroke="#333" stroke-width="1.1" />
<g transform="translate(505.93,517.55) scale(0.8439,1)" fill="#111"><text x="0.00 4.63" y="0" font-size="13.91" font-weight="bold">-8</text></g>
<line x1="525.0" y1="512.2" x2="682.1" y2="512.2" stroke="#222" stroke-width="1.4" />
<line x1="563.6" y1="512.2" x2="563.6" y2="518.3" stroke="#333" stroke-width="1.2" />
<line x1="642.6" y1="512.2" x2="642.6" y2="518.3" stroke="#333" stroke-width="1.2" />
<line x1="527.7" y1="406.7" x2="685.0" y2="406.7" stroke="#000" stroke-width="2.2" stroke-dasharray="1.6,1.5"/>
<g transform="translate(546.17,537.30) scale(0.8944,1)" fill="#000"><text x="0.00 9.94 19.12 29.06" y="0" font-size="13.76" font-weight="bold">HER2</text></g>
<g transform="translate(619.29,536.80) scale(0.8745,1)" fill="#000"><text x="0.00 9.94 19.12 29.06" y="0" font-size="13.76" font-weight="bold">HER2</text></g>
<rect x="579.6" y="530.1" width="2.4" height="1.3" fill="#111"/>
<path d="M652.3,530.4 h4.6 M654.6,528.1 v4.6" stroke="#111" stroke-width="1.2"/>
<g transform="translate(617.71,368.80) scale(0.9496,1)" fill="#1a1a1a"><text x="0.00 9.28 21.27 29.01" y="0" font-size="13.91">P=0.</text><path transform="translate(32.87,0) scale(0.00679,-0.00679)" d="M763 0L583 0L583 1147Q518 1085 412.5 1023Q307 961 223 930L223 1104Q374 1175 487 1276Q600 1377 647 1472L763 1472Z"/><path transform="translate(40.61,0) scale(0.00679,-0.00679)" d="M763 0L583 0L583 1147Q518 1085 412.5 1023Q307 961 223 930L223 1104Q374 1175 487 1276Q600 1377 647 1472L763 1472Z"/></g>
<ellipse cx="564.1" cy="375.0" rx="2.8" ry="3.7"/>
<ellipse cx="551.6" cy="385.9" rx="2.8" ry="3.7"/>
<ellipse cx="557.8" cy="388.7" rx="2.8" ry="3.7"/>
<ellipse cx="564.1" cy="388.7" rx="2.8" ry="3.7"/>
<ellipse cx="570.4" cy="386.6" rx="2.8" ry="3.7"/>
<ellipse cx="576.6" cy="384.5" rx="2.8" ry="3.7"/>
<ellipse cx="540.9" cy="392.8" rx="2.8" ry="3.7"/>
<ellipse cx="546.7" cy="394.9" rx="2.8" ry="3.7"/>
<ellipse cx="567.6" cy="393.5" rx="2.8" ry="3.7"/>
<ellipse cx="552.5" cy="397.7" rx="2.8" ry="3.7"/>
<ellipse cx="558.5" cy="399.8" rx="2.8" ry="3.7"/>
<ellipse cx="564.1" cy="401.9" rx="2.8" ry="3.7"/>
<ellipse cx="572.4" cy="400.5" rx="2.8" ry="3.7"/>
<ellipse cx="578.4" cy="398.4" rx="2.8" ry="3.7"/>
<ellipse cx="584.3" cy="397.7" rx="2.8" ry="3.7"/>
<ellipse cx="537.7" cy="405.4" rx="2.8" ry="3.7"/>
<ellipse cx="546.7" cy="406.7" rx="2.8" ry="3.7"/>
<ellipse cx="552.3" cy="409.5" rx="2.8" ry="3.7"/>
<ellipse cx="558.5" cy="410.2" rx="2.8" ry="3.7"/>
<ellipse cx="564.1" cy="408.1" rx="2.8" ry="3.7"/>
<ellipse cx="569.7" cy="409.5" rx="2.8" ry="3.7"/>
<ellipse cx="575.2" cy="407.4" rx="2.8" ry="3.7"/>
<ellipse cx="581.5" cy="406.7" rx="2.8" ry="3.7"/>
<ellipse cx="587.3" cy="404.7" rx="2.8" ry="3.7"/>
<ellipse cx="540.9" cy="413.4" rx="2.8" ry="3.7"/>
<ellipse cx="546.7" cy="416.5" rx="2.8" ry="3.7"/>
<ellipse cx="564.1" cy="413.7" rx="2.8" ry="3.7"/>
<ellipse cx="552.5" cy="419.3" rx="2.8" ry="3.7"/>
<ellipse cx="558.5" cy="420.7" rx="2.8" ry="3.7"/>
<ellipse cx="564.1" cy="422.1" rx="2.8" ry="3.7"/>
<ellipse cx="569.7" cy="421.4" rx="2.8" ry="3.7"/>
<ellipse cx="575.2" cy="420.0" rx="2.8" ry="3.7"/>
<ellipse cx="581.5" cy="416.5" rx="2.8" ry="3.7"/>
<ellipse cx="587.3" cy="414.4" rx="2.8" ry="3.7"/>
<ellipse cx="560.9" cy="434.6" rx="2.8" ry="3.7"/>
<ellipse cx="567.3" cy="434.6" rx="2.8" ry="3.7"/>
<ellipse cx="564.1" cy="489.9" rx="2.8" ry="3.7"/>
<line x1="563.4" y1="387.3" x2="563.4" y2="426.2" stroke="#000" stroke-width="1.8" />
<line x1="553.0" y1="387.3" x2="572.4" y2="387.3" stroke="#000" stroke-width="1.8" />
<line x1="550.2" y1="426.2" x2="576.6" y2="426.2" stroke="#000" stroke-width="1.8" />
<line x1="540.0" y1="407.3" x2="591.0" y2="407.3" stroke="#000" stroke-width="1.8" />
<rect x="639.05" y="389.35" width="5.5" height="7.3"/>
<rect x="626.75" y="397.75" width="5.5" height="7.3"/>
<rect x="651.45" y="396.85" width="5.5" height="7.3"/>
<rect x="641.65" y="401.05" width="5.5" height="7.3"/>
<rect x="645.55" y="402.35" width="5.5" height="7.3"/>
<rect x="632.55" y="405.55" width="5.5" height="7.3"/>
<rect x="639.05" y="405.55" width="5.5" height="7.3"/>
<rect x="642.35" y="408.15" width="5.5" height="7.3"/>
<rect x="636.45" y="415.35" width="5.5" height="7.3"/>
<rect x="629.95" y="419.85" width="5.5" height="7.3"/>
<rect x="636.45" y="425.75" width="5.5" height="7.3"/>
<rect x="651.45" y="423.75" width="5.5" height="7.3"/>
<rect x="645.55" y="427.65" width="5.5" height="7.3"/>
<rect x="642.35" y="433.45" width="5.5" height="7.3"/>
<rect x="635.85" y="439.35" width="5.5" height="7.3"/>
<line x1="641.2" y1="401.0" x2="641.2" y2="432.0" stroke="#000" stroke-width="1.8" />
<line x1="631.4" y1="401.0" x2="652.9" y2="401.0" stroke="#000" stroke-width="1.8" />
<line x1="628.2" y1="432.0" x2="647.7" y2="432.0" stroke="#000" stroke-width="1.8" />
<line x1="615.5" y1="417.7" x2="668.4" y2="417.7" stroke="#000" stroke-width="1.8" />
</svg>
</body></html>
